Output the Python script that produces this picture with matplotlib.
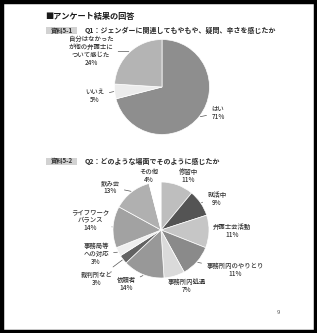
import numpy as np
import matplotlib.pyplot as plt
from matplotlib.patches import Rectangle

plt.rcParams['font.family'] = ['Noto Sans CJK JP', 'DejaVu Sans']

q1_labels = ["はい", "いいえ", "自分はなかった\nが他の弁護士に\nついて感じた"]
q1_values = [71, 5, 24]

q2_labels = ["修習中", "就活中", "弁護士会活動", "事務所内のやりとり", "事務所内処遇",
             "依頼者", "裁判所など", "事務局等\nへの対応", "ライフワーク\nバランス",
             "飲み会", "その他"]
q2_values = [11, 9, 11, 11, 7, 14, 3, 3, 14, 13, 4]

W, H = 317, 333
q1_colors = ["#8e8e8e", "#ececec", "#b4b4b4"]
q2_colors = ["#bebebe", "#545454", "#c6c6c6", "#8a8a8a", "#dadada", "#989898",
             "#626262", "#eeeeee", "#a2a2a2", "#b0b0b0", "#ffffff"]

fig = plt.figure(figsize=(W / 100, H / 100), dpi=100)
ax = fig.add_axes([0, 0, 1, 1])


def Y(y):
    # top-down pixel -> axes coords
    return H - y


txt = "#333333"


def header(y, tag, question):
    ax.add_patch(Rectangle((46, Y(y + 3.5)), 31, 7, fc="#d2d2d2", ec="none"))
    ax.text(61.5, Y(y), tag, fontsize=4.5, fontweight="bold", color="#333",
            ha="center", va="center")
    ax.text(85, Y(y), question, fontsize=5.0, fontweight="bold", color="#2a2a2a",
            ha="left", va="center")


def draw_pie(values, colors, center, r):
    wedges, _ = ax.pie(values, colors=colors, startangle=90, counterclock=False,
                       center=center, radius=r,
                       wedgeprops=dict(edgecolor="white", linewidth=0.5))
    return wedges


def label(w, center, r, text, pos, leader=True, edge=1.02):
    ang = np.deg2rad((w.theta1 + w.theta2) / 2)
    px = center[0] + r * edge * np.cos(ang)
    py = center[1] + r * edge * np.sin(ang)
    ap = dict(arrowstyle="-", lw=0.5, color="#555", shrinkA=1.5, shrinkB=0) if leader else None
    ax.annotate(text, xy=(px, py), xytext=(pos[0], Y(pos[1])), fontsize=4.6,
                fontweight="medium", color=txt, ha="center", va="center",
                linespacing=1.0, arrowprops=ap)


c1, r1 = (162, Y(87)), 47.5
w1 = draw_pie(q1_values, q1_colors, c1, r1)
q1_pos = [(218, 113), (95, 96), (91, 51)]
for w, lab, v, p in zip(w1, q1_labels, q1_values, q1_pos):
    label(w, c1, r1, f"{lab}\n{v}%", p)

c2, r2 = (161, Y(230)), 48
w2 = draw_pie(q2_values, q2_colors, c2, r2)
q2_pos = [(188, 176), (217, 199), (232, 231), (235, 270), (187, 286), (126, 284),
          (97, 279), (96, 254), (90, 220), (110, 187), (149, 176)]
no_leader = {"修習中", "弁護士会活動", "事務所内処遇", "その他"}
for w, lab, v, p in zip(w2, q2_labels, q2_values, q2_pos):
    label(w, c2, r2, f"{lab}\n{v}%", p, leader=lab not in no_leader)

# pie() resets the limits, so fix the pixel frame afterwards
ax.set_xlim(0, W)
ax.set_ylim(0, H)
ax.set_aspect("equal")
ax.axis("off")

# black page frame
ax.add_patch(Rectangle((1.5, 1.5), W - 3, H - 3, fill=False, ec="black", lw=3.2))

ax.text(45, Y(16.5), "■アンケート結果の回答", fontsize=5.9, fontweight="bold",
        color="#1a1a1a", ha="left", va="center")
header(30, "資料5-1", "Q1：ジェンダーに関連してもやもや、疑問、辛さを感じたか")
header(161, "資料5-2", "Q2：どのような場面でそのように感じたか")

ax.text(278, Y(313), "9", fontsize=4.3, color="#555", ha="center", va="center")

fig.savefig("out.png", dpi=100, facecolor="white")
